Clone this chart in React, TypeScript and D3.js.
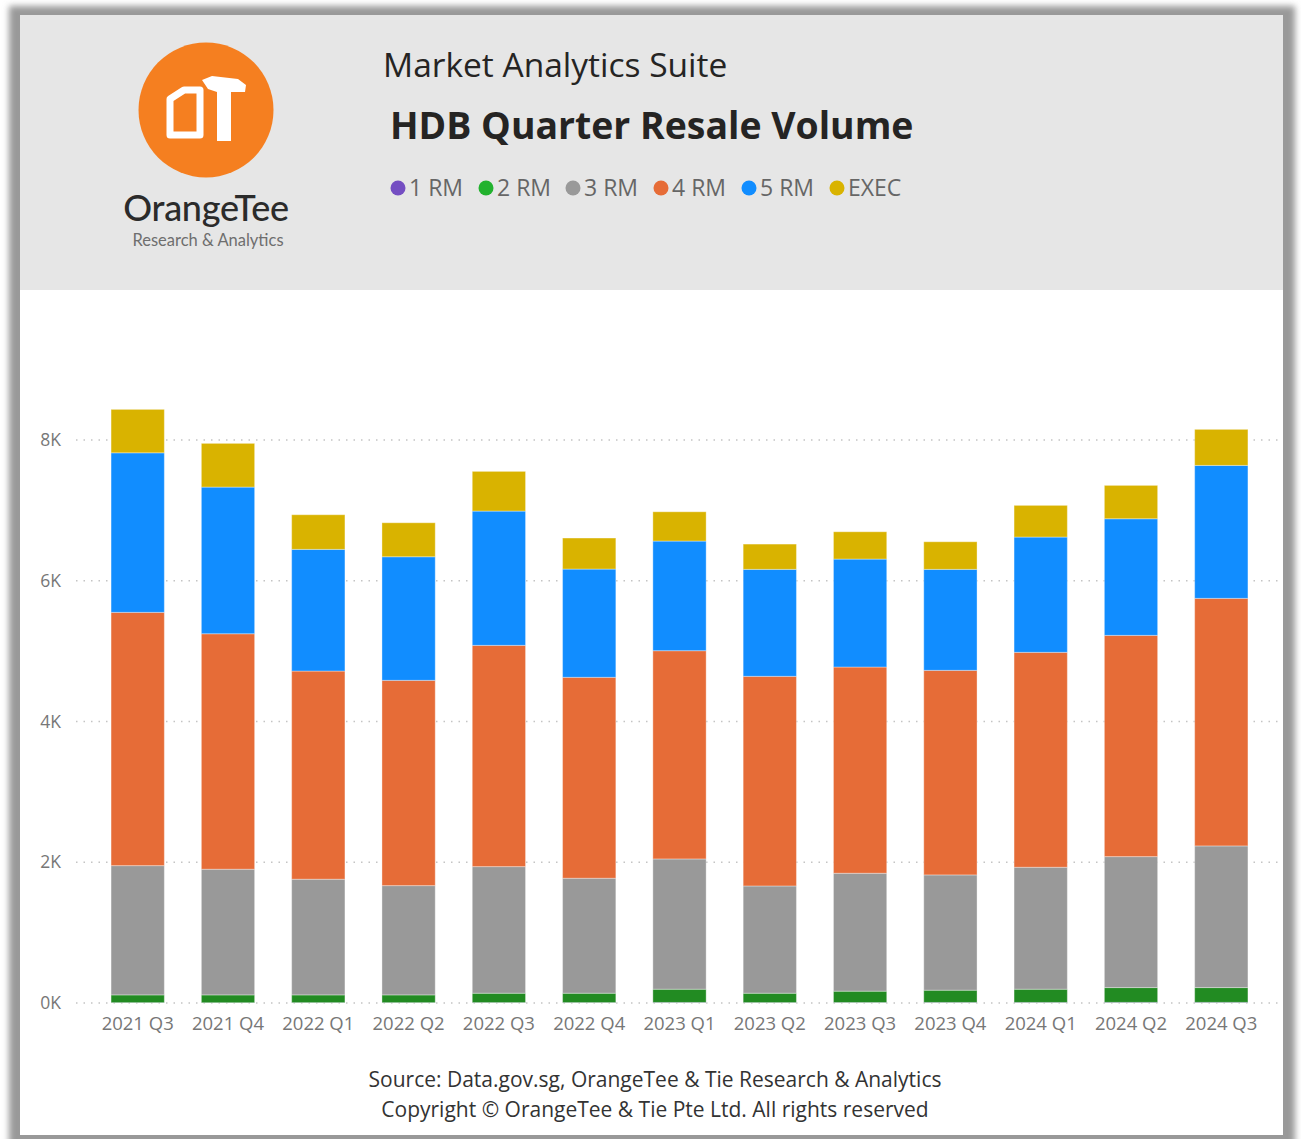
import React from 'react';
import * as d3 from 'd3';

const quarters = [
  '2021 Q3', '2021 Q4', '2022 Q1', '2022 Q2', '2022 Q3', '2022 Q4', '2023 Q1',
  '2023 Q2', '2023 Q3', '2023 Q4', '2024 Q1', '2024 Q2', '2024 Q3',
];
const rm1 = [5, 4, 5, 5, 6, 6, 8, 6, 7, 8, 8, 9, 9];
const rm2 = [110, 111, 110, 110, 133, 133, 188, 133, 161, 174, 188, 210, 210];
const rm3 = [1837, 1786, 1644, 1553, 1799, 1634, 1851, 1524, 1676, 1638, 1733, 1861, 2013];
const rm4 = [3599, 3346, 2958, 2917, 3144, 2855, 2959, 2979, 2930, 2907, 3054, 3144, 3518];
const rm5 = [2267, 2084, 1729, 1756, 1908, 1538, 1558, 1520, 1534, 1435, 1638, 1657, 1889];
const exec = [617, 621, 492, 483, 564, 441, 416, 359, 388, 392, 450, 474, 512];

const seriesKeys = ['1 RM', '2 RM', '3 RM', '4 RM', '5 RM', 'EXEC'];
const barColors = ['#744ec2', '#228b22', '#999999', '#e66c37', '#118dff', '#d9b300'];
const legendColors = ['#744ec2', '#22b22e', '#999999', '#e66c37', '#118dff', '#d9b300'];
const yTicks = [0, 2000, 4000, 6000, 8000];

const FONT = '"Open Sans", "Noto Sans", sans-serif';

export default function App() {
  const rows = quarters.map((q, i) => ({
    quarter: q,
    '1 RM': rm1[i], '2 RM': rm2[i], '3 RM': rm3[i],
    '4 RM': rm4[i], '5 RM': rm5[i], EXEC: exec[i],
  }));
  const stacked = d3.stack<any>().keys(seriesKeys)(rows);

  const x = d3.scaleBand<string>()
    .domain(quarters)
    .range([93, 1266])
    .paddingInner(0.41)
    .paddingOuter(0.2);
  const y = d3.scaleLinear().domain([0, 8000]).range([1003, 440]);
  const color = d3.scaleOrdinal<string>().domain(seriesKeys).range(barColors);

  const legendX = [391, 479, 566, 654, 742, 830];

  return (
    <svg width={1301} height={1139} style={{ position: 'absolute', left: 0, top: 0 }}>
      <defs>
        <filter id="shadow" x="-5%" y="-5%" width="110%" height="110%">
          <feGaussianBlur stdDeviation="3" />
        </filter>
      </defs>
      <rect x={0} y={0} width={1301} height={1139} fill="#ffffff" />
      <rect x={9} y={6} width={1286} height={1145} fill="#999999" filter="url(#shadow)" />
      <rect x={20} y={15} width={1263} height={1120} fill="#ffffff" />
      <rect x={20} y={15} width={1263} height={275} fill="#e6e6e6" />

      {/* logo */}
      <circle cx={206} cy={110} r={67.5} fill="#f57f20" />
      <path d="M170,99 L184,90 L200,90 L200,135 L170,135 Z" fill="none" stroke="#fff"
        strokeWidth={7} strokeLinejoin="round" />
      <path d="M202,80 L212,76 L238,79 L246,85 L245,92 L231,92 L231,141 L217,141 L217,92 L208,89 Z"
        fill="#fff" />
      <text x={206} y={221} textAnchor="middle" fontFamily='"Lato", "Noto Sans", sans-serif'
        fontSize={36} fill="#2b2b2b" fontWeight={500} letterSpacing={-0.3}>OrangeTee</text>
      <text x={208} y={246} textAnchor="middle" fontFamily='"Lato", "Noto Sans", sans-serif'
        fontSize={16.5} fill="#6e6e6e">Research &amp; Analytics</text>

      {/* titles */}
      <text x={383} y={77} fontFamily={FONT} fontSize={33.5} fill="#252423">Market Analytics Suite</text>
      <text x={390} y={139} fontFamily={FONT} fontSize={37.4} fontWeight={700} fill="#252423">
        HDB Quarter Resale Volume
      </text>

      {/* legend */}
      {seriesKeys.map((k, i) => (
        <g key={k} transform={`translate(${legendX[i]},188)`}>
          <circle cx={7} cy={0} r={7.5} fill={legendColors[i]} />
          <text x={18} y={8} fontFamily={FONT} fontSize={23} fill="#666666">{k}</text>
        </g>
      ))}

      {/* gridlines + y axis */}
      {yTicks.map(t => (
        <g key={t}>
          <line x1={76} x2={1282} y1={y(t)} y2={y(t)} stroke="#c4c4c4"
            strokeWidth={1.5} strokeDasharray="1.5,6" />
          <text x={61} y={y(t) + 6} textAnchor="end" fontFamily={FONT} fontSize={17.5}
            fill="#777777">{`${t / 1000}K`}</text>
        </g>
      ))}

      {/* bars */}
      {stacked.map(layer => (
        <g key={layer.key} fill={color(layer.key)}>
          {layer.map((d, i) => (
            <rect key={i}
              x={x(quarters[i])!}
              y={y(d[1])}
              width={x.bandwidth()}
              height={Math.max(0, y(d[0]) - y(d[1]))}
              stroke="#ffffff" strokeOpacity={0.35} strokeWidth={1} />
          ))}
        </g>
      ))}

      {/* x axis labels */}
      {quarters.map(q => (
        <text key={q} x={x(q)! + x.bandwidth() / 2} y={1030} textAnchor="middle"
          fontFamily={FONT} fontSize={18.5} fill="#777777">{q}</text>
      ))}

      {/* footer */}
      <text x={655} y={1087} textAnchor="middle" fontFamily={FONT} fontSize={21} fill="#333333">
        Source: Data.gov.sg, OrangeTee &amp; Tie Research &amp; Analytics
      </text>
      <text x={655} y={1117} textAnchor="middle" fontFamily={FONT} fontSize={21} fill="#333333">
        Copyright © OrangeTee &amp; Tie Pte Ltd. All rights reserved
      </text>
    </svg>
  );
}
